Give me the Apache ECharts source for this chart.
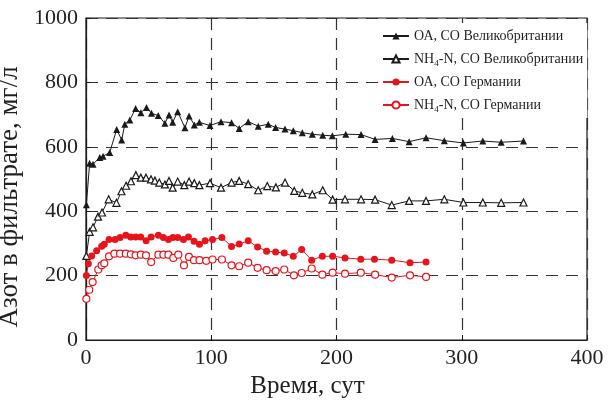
<!DOCTYPE html>
<html>
<head>
<meta charset="utf-8">
<script src="https://cdn.jsdelivr.net/npm/echarts@6/dist/echarts.min.js"></script>
<style>
  html, body { margin: 0; padding: 0; background: #fff; }
  #chart { width: 612px; height: 400px; }
</style>
</head>
<body>
<div id="chart"></div>
<script>
// Время, сут и значения азота (мг/л)
const ukDays = [0.3, 2.9, 5.6, 11, 13.6, 18.9, 24.5, 28.5, 31, 35, 39.6, 43.8, 48.3, 52.3, 57.7, 63, 66.3, 69.2, 73.2, 79, 82.3, 86.5, 90.5, 99, 107.8, 116.2, 122.3, 129.5, 137.5, 145.5, 151.4, 158.9, 165.5, 172.7, 180.7, 189, 196.7, 207.4, 219.6, 230.8, 244.6, 258, 271.5, 286.1, 301.3, 316.8, 331.5, 349.3];
const ukOA = [420, 549, 546, 567, 571, 582, 654, 621, 670, 683, 719, 706, 722, 704, 697, 673, 699, 676, 709, 659, 696, 668, 676, 666, 678, 675, 657, 678, 664, 670, 660, 655, 650, 644, 639, 636, 634, 639, 638, 623, 626, 616, 628, 619, 612, 618, 614, 618];

const ukNDays = [0.3, 2.9, 5.6, 9.6, 12.8, 18.1, 24.3, 28.3, 32, 35.9, 39.8, 43.8, 47.9, 51.9, 55, 58.5, 63, 66.3, 69.2, 73.2, 78.5, 82.3, 86.5, 90.5, 99, 107.8, 116.2, 122.3, 129.5, 137.5, 144.7, 151.6, 158.9, 166.3, 172.7, 180.7, 189, 196.9, 206.8, 219.6, 230.8, 244.1, 258, 271.5, 286.1, 301.3, 316.8, 331.5, 349.3];
const ukNH4 = [261, 336, 350, 383, 396, 437, 426, 462, 479, 493, 512, 504, 504, 499, 495, 489, 483, 494, 473, 492, 481, 492, 487, 481, 487, 473, 489, 494, 484, 465, 478, 474, 489, 463, 457, 452, 465, 436, 437, 437, 436, 419, 432, 432, 437, 427, 427, 426, 427];

const deDays = [0.3, 1.9, 4.5, 8.5, 12.5, 14.6, 18.4, 23.2, 27.2, 31.8, 35.7, 39.7, 43.7, 48, 52, 57.8, 61.8, 65.8, 69.3, 73.3, 77.8, 81.8, 86.3, 90.6, 95.1, 101, 108.5, 116.2, 122.3, 129.5, 137, 144.2, 151.4, 158.3, 165.5, 172.2, 180.2, 188.7, 196.9, 206.8, 219.4, 230.3, 244.1, 258.7, 271.5];
const deOA = [200, 237, 261, 277, 291, 297, 312, 312, 318, 325, 320, 320, 320, 308, 320, 325, 318, 312, 318, 318, 312, 320, 307, 297, 308, 312, 318, 290, 298, 308, 289, 276, 273, 270, 260, 281, 248, 260, 260, 255, 251, 251, 248, 240, 242];

const deNDays = [0.3, 2.6, 5.3, 9.8, 12.5, 14.6, 18.4, 22.7, 27.2, 31.8, 35.8, 39.6, 43.8, 47.9, 52, 57.8, 61.8, 65.8, 69.7, 73.7, 78.2, 82.2, 86.2, 90.6, 96, 101, 108.5, 116.2, 122.3, 129.5, 137, 144.2, 151.4, 158.3, 166, 172.2, 180.2, 188.7, 196.9, 206.8, 219.4, 230.8, 244.1, 258.7, 271.5];
const deNH4 = [128, 156, 180, 219, 232, 238, 260, 268, 268, 268, 266, 263, 265, 263, 242, 265, 265, 265, 255, 265, 232, 258, 248, 248, 246, 250, 250, 232, 229, 240, 224, 217, 214, 219, 201, 208, 222, 203, 209, 206, 209, 203, 194, 201, 196];

const seriesNames = ['ОА, СО Великобритании', 'NH4-N, СО Великобритании', 'ОА, СО Германии', 'NH4-N, СО Германии'];

const FONT = '"Liberation Serif", "Times New Roman", serif';
const BLACK = '#1a1a1a';
const TEXT = '#231f20';
const RED = '#e8141c';

const zip = (xs, ys) => xs.map((x, i) => [x, ys[i]]);

// подпись легенды: NH4 с нижним индексом
const legendLabel = (name) => {
  if (name.indexOf('NH4') === 0) {
    return '{n|NH}{sub|4}{n|' + name.slice(3) + '}';
  }
  return '{n|' + name + '}';
};

const chart = echarts.init(document.getElementById('chart'));

const mkSeries = (name, data, color, symbol, hollow) => ({
  name: name,
  type: 'line',
  data: data,
  symbol: symbol,
  symbolSize: 7,
  showAllSymbol: true,
  lineStyle: { color: color, width: 1 },
  itemStyle: hollow
    ? { color: '#fff', borderColor: color, borderWidth: 1.2 }
    : { color: color, borderColor: color, borderWidth: 0 },
  emphasis: { disabled: true }
});

const option = {
  animation: false,
  backgroundColor: '#fff',
  textStyle: { fontFamily: FONT },
  grid: {
    left: 86,
    right: 25,
    top: 18,
    bottom: 60,
    outerBoundsMode: 'none',
    containLabel: false,
    show: true,
    borderColor: BLACK,
    borderWidth: 1.2,
    backgroundColor: 'transparent'
  },
  legend: {
    orient: 'vertical',
    left: 378,
    top: 23,
    itemWidth: 26,
    itemHeight: 9,
    itemGap: 5,
    padding: [4, 4, 4, 4],
    backgroundColor: '#fff',
    formatter: legendLabel,
    textStyle: {
      fontFamily: FONT,
      fontSize: 14,
      lineHeight: 18,
      color: TEXT,
      rich: {
        n: { fontFamily: FONT, fontSize: 14, lineHeight: 18, color: TEXT },
        sub: { fontFamily: FONT, fontSize: 9, lineHeight: 9, verticalAlign: 'bottom', color: TEXT }
      }
    },
    data: seriesNames
  },
  xAxis: {
    type: 'value',
    min: 0,
    max: 400,
    interval: 100,
    name: 'Время, сут',
    nameLocation: 'middle',
    nameGap: 27,
    nameTextStyle: { fontFamily: FONT, fontSize: 25, color: TEXT, verticalAlign: 'top', padding: [0, 58, 0, 0] },
    axisLine: { show: true, lineStyle: { color: BLACK, width: 1.2 } },
    axisTick: { show: true, inside: true, length: 5, lineStyle: { color: BLACK } },
    axisLabel: { fontFamily: FONT, fontSize: 22, color: TEXT, margin: 7 },
    splitLine: { show: true, lineStyle: { color: '#333', width: 1.2, type: [12, 8] } }
  },
  yAxis: {
    type: 'value',
    min: 0,
    max: 1000,
    interval: 200,
    name: 'Азот в фильтрате, мг/л',
    nameLocation: 'middle',
    nameGap: 48,
    nameTextStyle: { fontFamily: FONT, fontSize: 27, color: TEXT, padding: [0, 36, 0, 0] },
    axisLine: { show: true, lineStyle: { color: BLACK, width: 1.2 } },
    axisTick: { show: true, inside: true, length: 5, lineStyle: { color: BLACK } },
    axisLabel: { fontFamily: FONT, fontSize: 22, color: TEXT, margin: 8, formatter: (v) => String(v) },
    splitLine: { show: true, lineStyle: { color: '#333', width: 1.2, type: [12, 8] } }
  },
  series: [
    mkSeries(seriesNames[0], zip(ukDays, ukOA), BLACK, 'triangle', false),
    mkSeries(seriesNames[1], zip(ukNDays, ukNH4), BLACK, 'triangle', true),
    mkSeries(seriesNames[2], zip(deDays, deOA), RED, 'circle', false),
    mkSeries(seriesNames[3], zip(deNDays, deNH4), RED, 'circle', true)
  ]
};

chart.setOption(option);
</script>
</body>
</html>
